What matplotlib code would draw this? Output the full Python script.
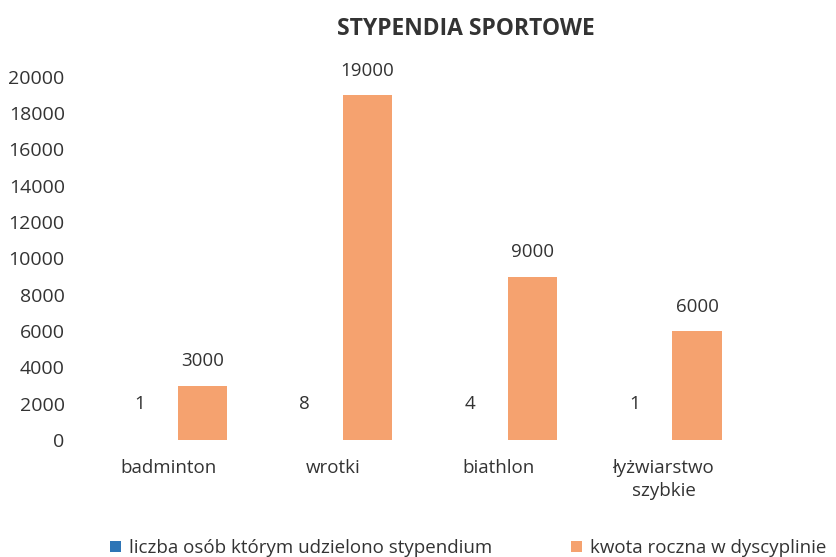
import matplotlib
matplotlib.use("Agg")
import matplotlib.pyplot as plt
import matplotlib.transforms as mtransforms
import numpy as np

categories = ["badminton", "wrotki", "biathlon", "łyżwiarstwo\nszybkie"]
persons = [1, 8, 4, 1]
amounts = [3000, 19000, 9000, 6000]
series_names = ["liczba osób którym udzielono stypendium", "kwota roczna w dyscyplinie"]
yticks = list(range(0, 20001, 2000))

plt.rcParams['font.family'] = ['Open Sans', 'DejaVu Sans']

fig = plt.figure(figsize=(8.36, 5.57), dpi=100)
ax = fig.add_axes([0.114, 0.21, 0.789, 0.652])

x = np.arange(len(categories))
w = 0.30
blue = "#2E75B6"
orange = "#F5A26F"
txt = "#333333"
b1 = ax.bar(x - w/2, persons, width=w, color=blue, label=series_names[0])
b2 = ax.bar(x + w/2, amounts, width=w, color=orange, label=series_names[1])

for xi, v in zip(x, persons):
    ax.annotate(str(v), (xi - w/2 - 0.08, 2000), ha="center", va="center",
                fontsize=13.5, color=txt)
for xi, v in zip(x, amounts):
    ax.annotate(str(v), (xi + w/2, v), xytext=(0, 11), textcoords="offset points",
                ha="center", va="bottom", fontsize=13.5, color=txt)

ax.set_xlim(-0.5, 3.5)
ax.set_ylim(0, 20000)
ax.set_yticks(yticks)
ax.set_yticklabels([str(t) for t in yticks], fontsize=14, color=txt)
ax.set_xticks(x)
ax.set_xticklabels(categories, fontsize=13.5, color=txt, linespacing=1.3)
ax.tick_params(axis="both", length=0)
ax.tick_params(axis="y", pad=22)
ax.tick_params(axis="x", pad=14)
shift = mtransforms.ScaledTranslation(-9/100, 0, fig.dpi_scale_trans)
for lab in ax.get_xticklabels():
    lab.set_transform(lab.get_transform() + shift)
for s in ax.spines.values():
    s.set_visible(False)

fig.text(0.557, 0.948, "STYPENDIA SPORTOWE", ha="center", va="center",
         fontsize=16.5, fontweight="bold", color=txt)

fig.legend(handles=[b1, b2], labels=series_names, loc="center",
           bbox_to_anchor=(0.56, 0.016), ncol=2, frameon=False, fontsize=13.5,
           handlelength=0.6, handleheight=0.6, columnspacing=4.2, handletextpad=0.4,
           labelcolor=txt)

fig.savefig("out.png", dpi=100)
